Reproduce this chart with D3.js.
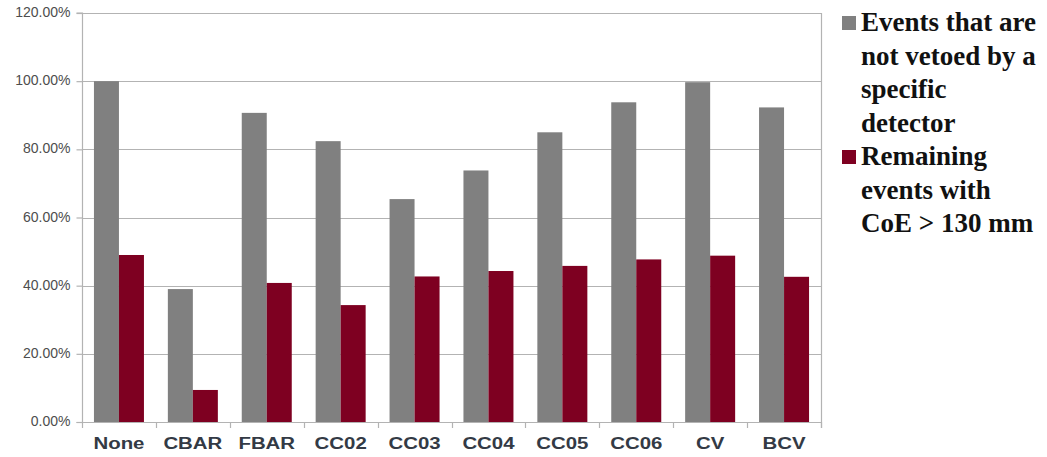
<!DOCTYPE html>
<html>
<head>
<meta charset="utf-8">
<script src="https://cdn.jsdelivr.net/npm/d3@7"></script>
<style>
  html, body { margin: 0; padding: 0; background: #fff; }
  svg { display: block; }
</style>
</head>
<body>
<svg id="chart" width="1047" height="457"></svg>
<script>
// Veto detectors along the x axis
const categories = ["None", "CBAR", "FBAR", "CC02", "CC03", "CC04", "CC05", "CC06", "CV", "BCV"];
// Fraction of events not vetoed by the given detector (%)
const notVetoed = [100.0, 39.0, 90.7, 82.4, 65.4, 73.8, 85.0, 93.8, 99.7, 92.3];
// Remaining events with CoE > 130 mm (%)
const remainingCoE = [49.0, 9.4, 40.8, 34.3, 42.7, 44.3, 45.8, 47.7, 48.8, 42.6];
// Y-axis ticks
const yTicks = [0, 20, 40, 60, 80, 100, 120];
const seriesNames = [
  ["Events that are", "not vetoed by a", "specific", "detector"],
  ["Remaining", "events with", "CoE > 130 mm"]
];
const seriesColors = ["#808080", "#7e0021"];

const svg = d3.select("#chart");
const plot = { left: 82, right: 821, top: 13, bottom: 422 };

const x = d3.scaleBand().domain(categories).range([plot.left, plot.right]).paddingInner(0).paddingOuter(0);
const sub = d3.scaleBand().domain([0, 1]).range([0, 50]);
const y = d3.scaleLinear().domain([0, 120]).range([plot.bottom, plot.top]);

const gridColor = "#b3b3b3";

// Horizontal gridlines
svg.append("g").selectAll("line").data(yTicks).join("line")
  .attr("x1", plot.left).attr("x2", plot.right)
  .attr("y1", d => Math.round(y(d)) + 0.5).attr("y2", d => Math.round(y(d)) + 0.5)
  .attr("stroke", gridColor).attr("stroke-width", 1.2);

// Right border of the plot area
svg.append("line")
  .attr("x1", plot.right + 0.5).attr("x2", plot.right + 0.5)
  .attr("y1", plot.top).attr("y2", plot.bottom + 6)
  .attr("stroke", gridColor).attr("stroke-width", 1.2);

// Bars
const rows = categories.map((c, i) => ({ c, vals: [notVetoed[i], remainingCoE[i]] }));
const groups = svg.append("g").selectAll("g").data(rows).join("g")
  .attr("transform", d => `translate(${x(d.c) + (x.bandwidth() - 50) / 2},0)`);
groups.selectAll("rect").data(d => d.vals.map((v, k) => ({ v, k }))).join("rect")
  .attr("x", d => sub(d.k))
  .attr("width", sub.bandwidth())
  .attr("y", d => y(d.v))
  .attr("height", d => y(0) - y(d.v))
  .attr("fill", d => seriesColors[d.k]);

// Y axis
const yAxis = svg.append("g")
  .attr("transform", `translate(${plot.left + 0.5},0)`)
  .call(d3.axisLeft(y).tickValues(yTicks).tickSize(6).tickPadding(6)
        .tickFormat(d => d3.format(".2f")(d) + "%"));
yAxis.select(".domain").attr("stroke", gridColor).attr("stroke-width", 1.2)
  .attr("d", `M-6,${plot.top}H0V${plot.bottom + 0.5}H-6`);
yAxis.selectAll(".tick line").attr("stroke", gridColor).attr("stroke-width", 1.2);
yAxis.selectAll(".tick text")
  .attr("fill", "#4d4d4d")
  .attr("font-family", "'Liberation Sans', Arial, sans-serif")
  .attr("font-size", "14px")
  .attr("dy", "0.25em");

// X axis
const boundaries = categories.map(c => x(c)).concat([plot.right]);
svg.append("g").selectAll("line").data(boundaries).join("line")
  .attr("x1", d => Math.round(d) + 0.5).attr("x2", d => Math.round(d) + 0.5)
  .attr("y1", plot.bottom).attr("y2", plot.bottom + 6)
  .attr("stroke", gridColor).attr("stroke-width", 1.2);

svg.append("g").selectAll("text").data(categories).join("text")
  .attr("transform", d => `translate(${x(d) + x.bandwidth() / 2},449) scale(1.2,1)`)
  .attr("text-anchor", "middle")
  .attr("fill", "#333a45")
  .attr("font-family", "'Liberation Sans', Arial, sans-serif")
  .attr("font-weight", "bold")
  .attr("font-size", "17px")
  .text(d => d);

// Legend
const legend = svg.append("g");
const lineGap = 33.5;
let baseline = 31;
seriesNames.forEach((lines, k) => {
  legend.append("rect")
    .attr("x", 842).attr("y", baseline - 15)
    .attr("width", 14).attr("height", 14)
    .attr("fill", seriesColors[k]);
  lines.forEach(t => {
    legend.append("text")
      .attr("x", 861).attr("y", baseline)
      .attr("fill", "#111")
      .attr("font-family", "'Liberation Serif', 'Times New Roman', serif")
      .attr("font-weight", "bold")
      .attr("font-size", "27px")
      .text(t);
    baseline += lineGap;
  });
});
</script>
</body>
</html>
